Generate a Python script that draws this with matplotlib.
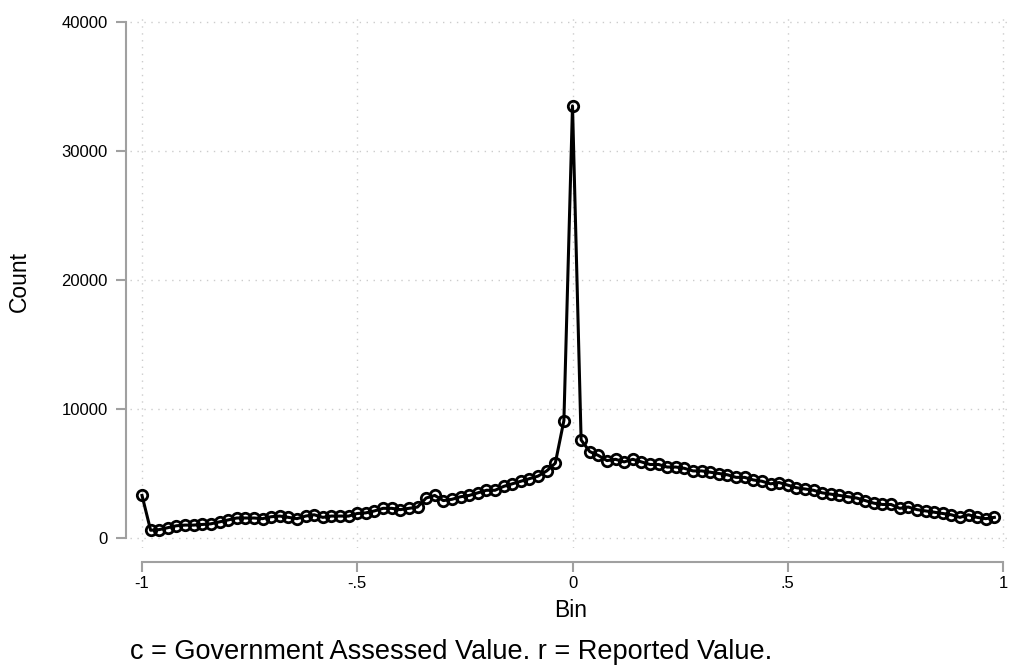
import numpy as np
import matplotlib.pyplot as plt

plt.rcParams['font.family'] = ['Liberation Sans', 'DejaVu Sans']

# bin centres, width 0.02, from -1 up to .98
bins = np.round(np.arange(-1.0, 0.99, 0.02), 2)

# counts per bin
counts = [
    3300, 600, 650, 800, 950, 1000, 1000, 1050, 1100, 1250,
    1400, 1550, 1550, 1550, 1500, 1650, 1700, 1600, 1500, 1700,
    1800, 1600, 1700, 1700, 1700, 1900, 1950, 2100, 2300, 2300,
    2200, 2300, 2400, 3100, 3300, 2900, 3000, 3200, 3300, 3500,
    3700, 3700, 4000, 4200, 4400, 4600, 4800, 5200, 5800, 9100,
    33500, 7600, 6700, 6400, 6000, 6100, 5900, 6100, 5900, 5700,
    5700, 5500, 5500, 5400, 5200, 5200, 5100, 5000, 4900, 4700,
    4700, 4500, 4400, 4200, 4300, 4100, 3900, 3800, 3700, 3500,
    3400, 3300, 3200, 3100, 2900, 2700, 2600, 2600, 2300, 2400,
    2200, 2100, 2000, 1900, 1800, 1600, 1800, 1600, 1500, 1600,
]

xticks = [-1, -0.5, 0, 0.5, 1]
xticklabels = ['-1', '-.5', '0', '.5', '1']
yticks = [0, 10000, 20000, 30000, 40000]

fig = plt.figure(figsize=(10.16, 6.67), dpi=100)
ax = fig.add_axes([130 / 1016, 1 - 548 / 667, 882 / 1016, 534 / 667])

ax.plot(bins, counts, color='black', lw=2.2, marker='o', ms=7.5,
        mfc='none', mec='black', mew=2.0, zorder=3)

ax.set_xlim(-1.0279, 1.0209)
ax.set_ylim(-775, 40620)

ax.set_xticks(xticks)
ax.set_xticklabels(xticklabels)
ax.set_yticks(yticks)
ax.set_yticklabels([str(v) for v in yticks])

ax.grid(True, color='#cccccc', linestyle=(0, (1, 4)), lw=1.0)

for side in ['top', 'right']:
    ax.spines[side].set_visible(False)
ax.spines['left'].set_position(('outward', 3))
ax.spines['bottom'].set_position(('outward', 10))
ax.spines['left'].set_bounds(0, 40000)
ax.spines['bottom'].set_bounds(-1, 1)
for side in ['left', 'bottom']:
    ax.spines[side].set_color('#a0a0a0')
    ax.spines[side].set_linewidth(1.5)

ax.tick_params(axis='both', colors='#a0a0a0', length=7, width=1.5,
               labelcolor='black', labelsize=12)
ax.tick_params(axis='y', pad=6)
ax.tick_params(axis='x', pad=3)

ax.set_xlabel('Bin', fontsize=16.5, labelpad=6)
ax.set_ylabel('Count', fontsize=16.5, labelpad=22)

fig.text(130 / 1016, 1 - 652 / 667, 'c = Government Assessed Value. r = Reported Value.',
         fontsize=19.5, va='center', ha='left')

fig.savefig('out.png', dpi=100)
